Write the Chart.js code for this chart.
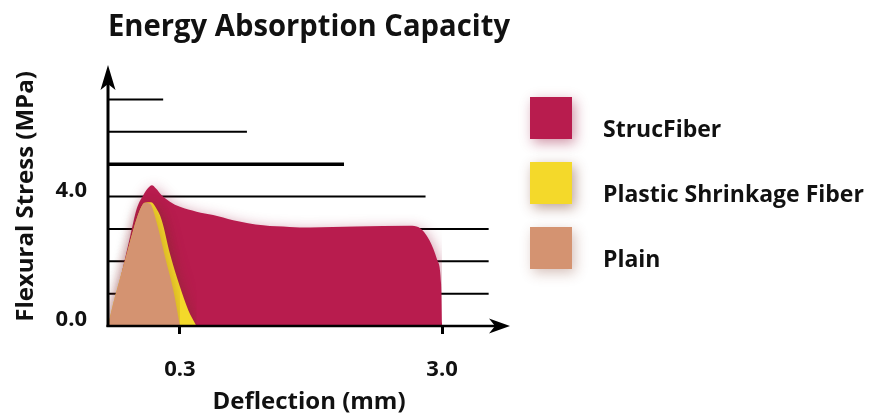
<!DOCTYPE html>
<html>
<head>
<meta charset="utf-8">
<title>Energy Absorption Capacity</title>
<script src="https://cdn.jsdelivr.net/npm/chart.js@4/dist/chart.umd.min.js"></script>
<style>
  html, body { margin: 0; padding: 0; background: #fff; }
</style>
</head>
<body>
<canvas id="grafico" width="875" height="414"></canvas>
<script>
// Datos (deflexion en mm, tension en MPa)
const seriesNames = ['StrucFiber', 'Plastic Shrinkage Fiber', 'Plain'];

const strucX = [0, 0.05, 0.092, 0.12, 0.147, 0.168, 0.183, 0.2, 0.224, 0.258, 0.3, 0.471, 0.642, 0.848, 1.156, 1.43, 1.64, 2.11, 2.67, 2.76, 2.87, 2.95, 2.99, 3.0];
const strucY = [0, 1.42, 2.76, 3.63, 4.04, 4.27, 4.35, 4.25, 4.04, 3.84, 3.68, 3.53, 3.43, 3.27, 3.11, 3.06, 3.04, 3.07, 3.10, 3.05, 2.65, 2.04, 1.30, 0];

const plasticX = [0, 0.022, 0.064, 0.105, 0.133, 0.153, 0.18, 0.2, 0.224, 0.258, 0.3, 0.386, 0.47];
const plasticY = [0, 0.70, 1.83, 2.96, 3.58, 3.81, 3.82, 3.65, 3.27, 2.24, 1.21, 0.49, 0];

const plainX = [0, 0.022, 0.064, 0.105, 0.133, 0.153, 0.175, 0.203, 0.2375, 0.272, 0.3];
const plainY = [0, 0.70, 1.83, 2.96, 3.58, 3.81, 3.78, 3.19, 2.14, 1.11, 0];

// lineas horizontales escalonadas detras de las areas
const stepLevels = [1, 2, 3, 4, 5, 6, 7];
const stepEnds = [3.48, 3.48, 3.48, 2.83, 1.99, 0.99, 0.23];

const xTicks = [0.3, 3.0];
const yTicks = [0, 4];

// estilos
const seriesColors = ['#b81c4e', '#f4d92a', '#d49371'];
const glowColors = ['rgba(150,20,60,0.45)', 'rgba(110,50,30,0.45)', 'rgba(120,50,30,0.3)'];
const stepWidths = [2, 2, 2, 2, 3.5, 2, 2];
const fuente = '"Open Sans", "DejaVu Sans", sans-serif';

// escala lineal partida: 0-0.3 mm ocupa mas espacio que el resto
class SplitScale extends Chart.LinearScale {
    static id = 'split';
    getPixelForValue(value) {
        if (value === null || value === undefined || isNaN(value)) return NaN;
        const sv = this.options.splitValue;
        const sf = this.options.splitFraction;
        let d;
        if (value <= sv) {
            d = (value - this.min) / (sv - this.min) * sf;
        } else {
            d = sf + (value - sv) / (this.max - sv) * (1 - sf);
        }
        return this.getPixelForDecimal(d);
    }
    getValueForPixel(pixel) {
        const d = this.getDecimalForPixel(pixel);
        const sv = this.options.splitValue;
        const sf = this.options.splitFraction;
        if (d <= sf) return this.min + d / sf * (sv - this.min);
        return sv + (d - sf) / (1 - sf) * (this.max - sv);
    }
}
Chart.register(SplitScale);

function puntos(xs, ys) {
    return xs.map((x, i) => ({ x: x, y: ys[i] }));
}

function flecha(ctx, px, py, dir) {
    ctx.beginPath();
    if (dir === 'up') {
        ctx.moveTo(px, py);
        ctx.lineTo(px + 7.5, py + 25);
        ctx.lineTo(px, py + 19);
        ctx.lineTo(px - 7.5, py + 25);
    } else {
        ctx.moveTo(px, py);
        ctx.lineTo(px - 21, py - 7.5);
        ctx.lineTo(px - 15, py);
        ctx.lineTo(px - 21, py + 7.5);
    }
    ctx.closePath();
    ctx.fill();
}

// sombra difusa alrededor de las areas
const sombraPlugin = {
    id: 'sombra',
    beforeDatasetDraw(chart, args) {
        if (chart.data.datasets[args.index].esEscalon) {
            chart.ctx.shadowColor = 'rgba(0,0,0,0)';
            chart.ctx.shadowBlur = 0;
        }
    },
    afterDatasetDraw(chart, args) {
        const metas = chart.getSortedVisibleDatasetMetas();
        const pos = metas.indexOf(args.meta);
        const next = metas[pos - 1];
        if (next) {
            const ds = chart.data.datasets[next.index];
            if (ds.glow) {
                chart.ctx.shadowColor = ds.glow;
                chart.ctx.shadowBlur = 14;
                chart.ctx.shadowOffsetX = 2;
                chart.ctx.shadowOffsetY = 3;
            }
        }
    },
    afterDatasetsDraw(chart) {
        const ctx = chart.ctx;
        ctx.shadowColor = 'rgba(0,0,0,0)';
        ctx.shadowBlur = 0;
        ctx.shadowOffsetX = 0;
        ctx.shadowOffsetY = 0;
    }
};

// ejes con flechas
const ejesPlugin = {
    id: 'ejes',
    afterDatasetsDraw(chart) {
        const { ctx, chartArea, scales } = chart;
        const x0 = scales.x.getPixelForValue(0);
        const y0 = scales.y.getPixelForValue(0);
        ctx.save();
        ctx.strokeStyle = '#000';
        ctx.fillStyle = '#000';
        ctx.lineWidth = 3;
        ctx.beginPath();
        ctx.moveTo(x0, y0 + 1);
        ctx.lineTo(x0, chartArea.top + 12);
        ctx.stroke();
        ctx.lineWidth = 2.5;
        ctx.beginPath();
        ctx.moveTo(x0 - 1.5, y0);
        ctx.lineTo(chartArea.right - 12, y0);
        ctx.stroke();
        flecha(ctx, x0, chartArea.top - 2, 'up');
        flecha(ctx, chartArea.right, y0, 'right');
        ctx.restore();
    }
};

// leyenda a la derecha
const leyendaPlugin = {
    id: 'leyenda',
    afterDraw(chart) {
        const ctx = chart.ctx;
        const areas = chart.data.datasets.filter(d => !d.esEscalon);
        ctx.save();
        areas.forEach((ds, i) => {
            const top = 97 + i * 65;
            ctx.shadowColor = ds.glow;
            ctx.shadowBlur = 12;
            ctx.shadowOffsetX = 3;
            ctx.shadowOffsetY = 4;
            ctx.fillStyle = ds.backgroundColor;
            ctx.fillRect(530, top, 42, 42);
            ctx.shadowColor = 'rgba(0,0,0,0)';
            ctx.shadowBlur = 0;
            ctx.shadowOffsetX = 0;
            ctx.shadowOffsetY = 0;
            ctx.fillStyle = '#111';
            ctx.font = 'bold 23px ' + fuente;
            ctx.textBaseline = 'middle';
            ctx.textAlign = 'left';
            ctx.fillText(ds.label, 603, top + 33);
        });
        ctx.restore();
    }
};

const areaData = [puntos(strucX, strucY), puntos(plasticX, plasticY), puntos(plainX, plainY)];

const datasets = seriesNames.map((nombre, i) => ({
    label: nombre,
    data: areaData[i],
    backgroundColor: seriesColors[i],
    borderWidth: 0,
    pointRadius: 0,
    fill: 'origin',
    cubicInterpolationMode: 'monotone',
    glow: glowColors[i],
    order: 3 - i
}));

stepLevels.forEach((nivel, i) => {
    datasets.push({
        label: 'step' + nivel,
        data: [{ x: 0, y: nivel }, { x: stepEnds[i], y: nivel }],
        borderColor: '#000',
        borderWidth: stepWidths[i],
        pointRadius: 0,
        fill: false,
        esEscalon: true,
        order: 10
    });
});

new Chart(document.getElementById('grafico'), {
    type: 'line',
    data: { datasets: datasets },
    options: {
        responsive: false,
        animation: false,
        events: [],
        layout: { padding: { left: 8, right: 365, top: 0, bottom: 0 } },
        plugins: {
            legend: { display: false },
            tooltip: { enabled: false },
            title: {
                display: true,
                text: 'Energy Absorption Capacity',
                align: 'start',
                fullSize: false,
                color: '#111',
                font: { family: fuente, size: 30, weight: 'bold' },
                padding: { top: 9, bottom: 22 }
            }
        },
        scales: {
            x: {
                type: 'split',
                min: 0,
                max: 3.7,
                splitValue: 0.3,
                splitFraction: 0.179,
                afterBuildTicks: s => { s.ticks = xTicks.map(v => ({ value: v })); },
                afterFit: s => { s.height = 88; },
                grid: { display: true, drawOnChartArea: false, drawTicks: true, tickLength: 8, tickWidth: 3, tickColor: '#000' },
                border: { display: false },
                ticks: {
                    padding: 23,
                    autoSkip: false,
                    maxRotation: 0,
                    color: '#111',
                    font: { family: fuente, size: 22, weight: 'bold' },
                    callback: v => Number(v).toFixed(1)
                },
                title: {
                    display: true,
                    text: 'Deflection (mm)',
                    color: '#111',
                    font: { family: fuente, size: 24, weight: 'bold' },
                    padding: { top: 0, bottom: -3 }
                }
            },
            y: {
                type: 'linear',
                min: 0,
                max: 8,
                afterBuildTicks: s => { s.ticks = yTicks.map(v => ({ value: v })); },
                afterFit: s => { s.width = 100; },
                grid: { display: false, drawTicks: false },
                border: { display: false },
                ticks: {
                    padding: 21,
                    labelOffset: -6,
                    color: '#111',
                    font: { family: fuente, size: 22, weight: 'bold' },
                    callback: v => Number(v).toFixed(1)
                },
                title: {
                    display: true,
                    text: 'Flexural Stress (MPa)',
                    color: '#111',
                    font: { family: fuente, size: 24, weight: 'bold' },
                    padding: { top: 4, bottom: 0 }
                }
            }
        }
    },
    plugins: [sombraPlugin, ejesPlugin, leyendaPlugin]
});
</script>
</body>
</html>
